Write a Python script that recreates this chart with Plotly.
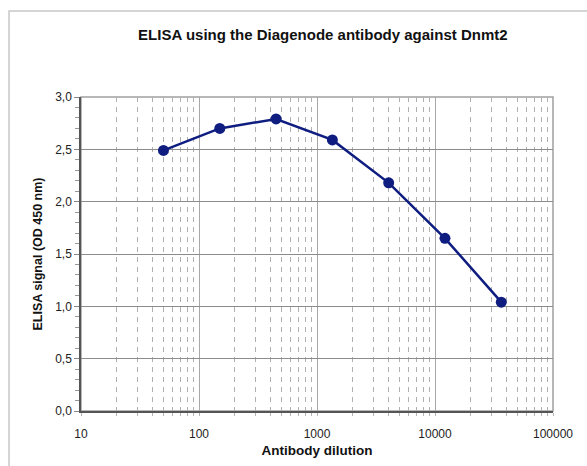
import plotly.graph_objects as go

dilution = [50, 150, 450, 1350, 4050, 12150, 36450]
signal = [2.49, 2.70, 2.79, 2.59, 2.18, 1.65, 1.04]

x_ticks = [10, 100, 1000, 10000, 100000]
x_ticktext = ["10", "100", "1000", "10000", "100000"]
y_ticks = [0, 0.5, 1.0, 1.5, 2.0, 2.5, 3.0]

navy = "#0f1d80"
font = "Liberation Sans, Arial, sans-serif"

fig = go.Figure()
fig.add_trace(go.Scatter(
    x=dilution, y=signal, mode="lines+markers",
    line=dict(color=navy, width=2.5),
    marker=dict(color=navy, size=11),
    showlegend=False,
))

fig.update_layout(
    width=587, height=466,
    margin=dict(l=81, r=34, t=97, b=55),
    paper_bgcolor="white", plot_bgcolor="white",
    separators=", ",
    font=dict(family=font, size=12, color="#222"),
    title=dict(text="<b>ELISA using the Diagenode antibody against Dnmt2</b>",
               x=0.55, xanchor="center", y=0.925, yanchor="middle",
               font=dict(family=font, size=15, color="#111")),
)

fig.update_xaxes(
    type="log", range=[1, 5], automargin=False,
    tickvals=x_ticks, ticktext=x_ticktext,
    showgrid=True, gridcolor="#a8a8a8", gridwidth=1,
    showline=True, linecolor="#555", linewidth=1.5, mirror=False,
    ticks="", ticklen=0, ticklabelstandoff=11,
    minor=dict(dtick="D1", showgrid=True, gridcolor="#b0b0b0", griddash="5px,5px",
               gridwidth=1, ticks="outside", ticklen=3, tickcolor="#b4b4b4"),
    tickfont=dict(family=font, size=12, color="#222"),
    title=dict(text="<b>Antibody dilution</b>", standoff=5,
               font=dict(family=font, size=13.5, color="#111")),
    zeroline=False,
)

fig.update_yaxes(
    range=[0, 3.0], tickvals=y_ticks, tickformat=".1f", automargin=False,
    showgrid=True, gridcolor="#8c8c8c", gridwidth=1,
    showline=True, linecolor="#555", linewidth=1.5,
    ticks="outside", ticklen=5, tickcolor="#888",
    minor=dict(dtick=0.1, ticks="outside", ticklen=4, tickcolor="#999", showgrid=False),
    tickfont=dict(family=font, size=12, color="#222"),
    title=dict(text="<b>ELISA signal (OD 450 nm)</b>", standoff=10,
               font=dict(family=font, size=12.5, color="#111")),
    zeroline=False,
)

# plot area right/top frame
fig.add_shape(type="rect", xref="paper", yref="paper", x0=0, y0=0, x1=1, y1=1,
              line=dict(color="#a0a0a0", width=1.5), layer="below")
# outer chart border (partially outside view)
fig.add_shape(type="rect", xref="paper", yref="paper",
              x0=-0.1525, y0=-0.2, x1=1.2, y1=1.274,
              line=dict(color="#c8c8c8", width=1.5), layer="below")

fig.write_html(
    "out.html",
    config={"displayModeBar": False},
    post_script="document.body.style.margin='0px';document.body.style.overflow='hidden';",
)
